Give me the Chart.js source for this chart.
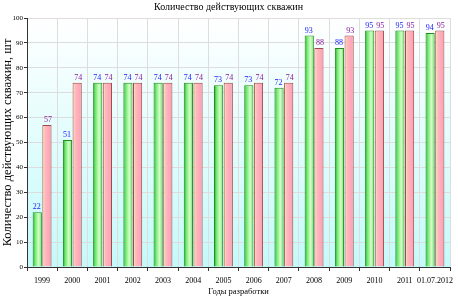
<!DOCTYPE html>
<html><head><meta charset="utf-8">
<script src="https://cdn.jsdelivr.net/npm/chart.js@4/dist/chart.umd.min.js"></script>
<style>html,body{margin:0;padding:0;background:#fff}#wrap{width:458px;height:297px}</style>
</head><body><div id="wrap"><canvas id="c" width="458" height="297"></canvas></div>
<script>
const categories = ['1999','2000','2001','2002','2003','2004','2005','2006','2007','2008','2009','2010','2011','01.07.2012'];
const seriesA = [22,51,74,74,74,74,73,73,72,93,88,95,95,94];
const seriesB = [57,74,74,74,74,74,74,74,74,88,93,95,95,95];
const yTicks = [0,10,20,30,40,50,60,70,80,90,100];

const gradPlugin = {
  id:'grad',
  beforeDraw(chart){
    const {ctx, chartArea:a} = chart;
    const g = ctx.createLinearGradient(0,a.top,0,a.bottom);
    g.addColorStop(0,'#ffffff'); g.addColorStop(1,'#c4fafa');
    ctx.save(); ctx.fillStyle=g; ctx.fillRect(a.left,a.top,a.right-a.left,a.bottom-a.top); ctx.restore();
  },
  afterDatasetsUpdate(chart){
    const ctx = chart.ctx;
    chart.data.datasets.forEach((ds,di)=>{
      const meta = chart.getDatasetMeta(di);
      meta.data.forEach(el=>{
        const l = el.x - el.width/2, r = el.x + el.width/2;
        const g = ctx.createLinearGradient(l,0,r,0);
        if(di===0){
          g.addColorStop(0,'#1f9e1f'); g.addColorStop(0.25,'#6ee86e');
          g.addColorStop(0.65,'#d6ffc8'); g.addColorStop(1,'#66dd66');
        } else {
          g.addColorStop(0,'#fff2a8'); g.addColorStop(0.3,'#ffb8c0');
          g.addColorStop(0.7,'#ffa8b8'); g.addColorStop(1,'#f8a0b0');
        }
        el.options.backgroundColor = g;
      });
    });
  },
  afterDatasetsDraw(chart){
    const ctx = chart.ctx;
    ctx.save();
    ctx.font = '8px "Liberation Serif", serif';
    ctx.textAlign='center'; ctx.textBaseline='bottom';
    chart.data.datasets.forEach((ds,di)=>{
      const meta = chart.getDatasetMeta(di);
      ctx.fillStyle = di===0 ? '#1a1aff' : '#8a1a9a';
      meta.data.forEach((el,i)=>{
        ctx.fillText(String(ds.data[i]), el.x + (di===0?-0.5:1), el.y-1);
      });
    });
    ctx.restore();
  }
};

new Chart(document.getElementById('c'),{
  type:'bar',
  data:{labels:categories,datasets:[
    {label:'A',data:seriesA,backgroundColor:()=>'#6ee86e',borderColor:'#1f8f1f',borderWidth:1,categoryPercentage:0.64,barPercentage:0.95},
    {label:'B',data:seriesB,backgroundColor:()=>'#ffb0c0',borderColor:'#a04848',borderWidth:1,categoryPercentage:0.64,barPercentage:0.95}
  ]},
  options:{
    responsive:false,animation:false,
    layout:{padding:{left:0,right:1,top:0,bottom:0}},
    plugins:{
      legend:{display:false},tooltip:{enabled:false},
      title:{display:true,text:'Количество действующих скважин',color:'#000',font:{family:'"Liberation Serif", serif',size:10,weight:'normal'},padding:{top:1,bottom:5}}
    },
    scales:{
      x:{
        afterFit(s){s.height=30;},
        grid:{color:'#dddddd',drawTicks:true,tickLength:4,tickColor:'#333'},
        border:{color:'#333'},
        ticks:{color:'#000',font:{family:'"Liberation Serif", serif',size:8},maxRotation:0,autoSkip:false,padding:5},
        title:{display:true,text:'Годы разработки',color:'#000',font:{family:'"Liberation Serif", serif',size:8.5},padding:{top:2,bottom:0}}
      },
      y:{
        min:0,max:100,
        afterBuildTicks(s){s.ticks=yTicks.map(v=>({value:v}));},
        afterFit(s){s.width=27;},
        grid:{color:'#dddddd',tickLength:3,tickColor:'#333'},
        border:{color:'#333'},
        ticks:{color:'#000',font:{family:'"Liberation Serif", serif',size:7},padding:1},
        title:{display:true,text:'Количество действующих скважин, шт',color:'#000',font:{family:'"Liberation Serif", serif',size:12.5},padding:{top:0,bottom:0}}
      }
    }
  },
  plugins:[gradPlugin]
});
</script></body></html>
